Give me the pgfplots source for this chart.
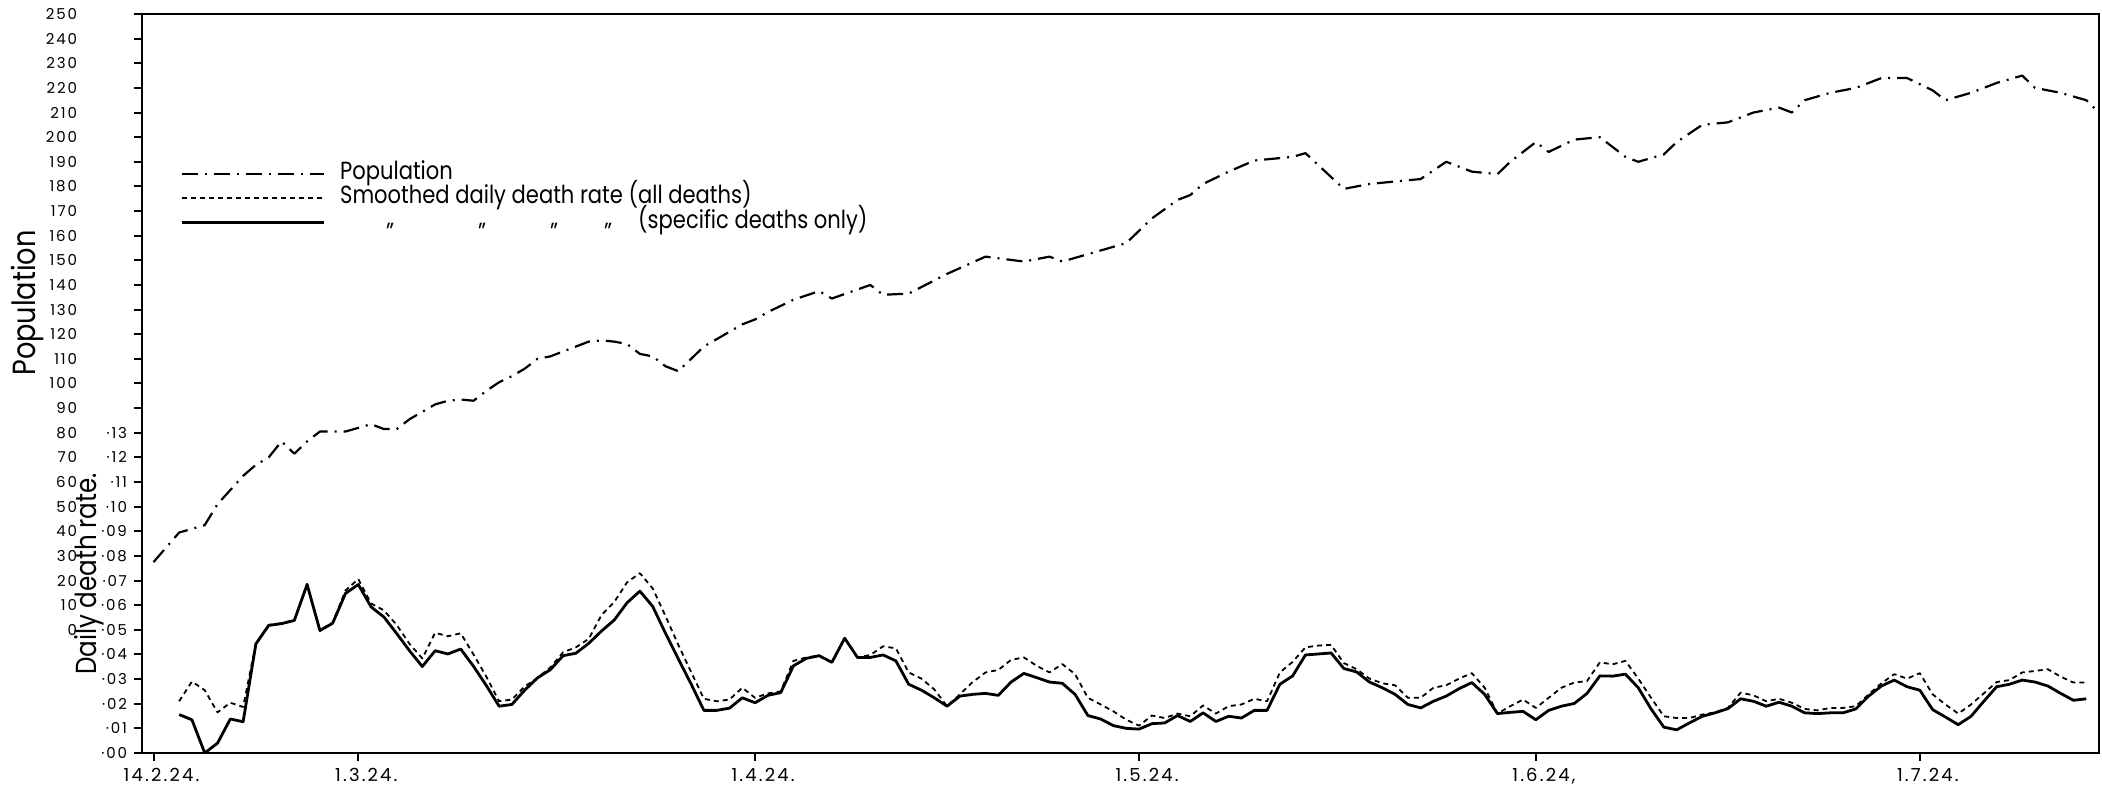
\documentclass[border=0pt]{standalone}
\usepackage{fontspec}
\setmainfont{Poppins}[FakeStretch=0.85]
\newfontfamily\tickfont{Poppins}[LetterSpace=12]
\usepackage{pgfplots}
\usepackage{pgfplotstable}
\pgfplotsset{compat=1.18}

% population (hundreds of individuals), day 0 = 14.2.24
\pgfplotstableread{
day pop
0 27.5
2 39.5
4 42.5
5 51
7 62.5
8 67
9 70
10 76.5
11 71.5
12 76.5
13 80.5
15 80.5
17 83.5
18 81.5
19 81.5
20 85.5
22 91.5
23 93
24 93.5
25 93
26 97
27 100.5
28 103
29 106
30 110
31 111
32 113
33 115
34 117
35 117.5
36 117
37 116
38 112
39 111
40 107
41 105
42 110
43 115
44 118
45 121
46 124
47 126
48 129
50 134
52 137.5
53 134.5
56 140
57 136
59 136.5
62 144.5
65 151.5
68 149.5
70 151.5
71 149.5
74 154
76 157
78 167
80 174.5
81 176.5
82 181
84 186
86 190.5
89 192
90 193.5
93 179
95 181
97 182
99 183
101 190
103 186
105 185
106 190
108 198
109 194
111 199
113 200
115 192
116 190
118 193
119 198
121 205
123 206
125 210
127 212
128 210
129 215
131 218
133 220
135 224
137 224
139 219
140 215
142 218
144 222
146 225
147 220
149 218
151 215
152 210
}\poptable

% smoothed daily death rates: all deaths, specific deaths only
\pgfplotstableread{
day all spec
2 .0210 .0156
3 .0290 .0135
4 .0255 .0000
5 .0165 .0040
6 .0204 .0138
7 .0187 .0127
8 .0445 .0443
9 .0520 .0518
10 .0527 .0525
11 .0540 .0538
12 .0686 .0684
13 .0499 .0497
14 .0530 .0527
15 .0660 .0648
16 .0706 .0684
17 .0607 .0593
18 .0579 .0552
19 .0520 .0485
20 .0443 .0415
21 .0384 .0351
22 .0488 .0415
23 .0474 .0402
24 .0486 .0422
25 .0400 .0352
26 .0310 .0274
27 .0210 .0190
28 .0217 .0197
29 .0270 .0255
30 .0305 .0305
31 .0347 .0338
32 .0409 .0395
33 .0429 .0405
34 .0463 .0445
35 .0560 .0495
36 .0613 .0540
37 .0693 .0610
38 .0730 .0657
39 .0668 .0595
40 .0556 .0486
41 .0439 .0382
42 .0329 .0280
43 .0220 .0173
44 .0210 .0173
45 .0217 .0182
46 .0265 .0224
47 .0224 .0204
48 .0242 .0234
49 .0250 .0245
50 .0374 .0354
51 .0388 .0384
52 .0395 .0395
53 .0368 .0368
54 .0466 .0466
55 .0388 .0388
56 .0398 .0388
57 .0433 .0398
58 .0425 .0374
59 .0327 .0279
60 .0302 .0255
61 .0258 .0224
62 .0190 .0190
63 .0238 .0231
64 .0288 .0238
65 .0327 .0242
66 .0337 .0234
67 .0378 .0288
68 .0388 .0323
69 .0354 .0306
70 .0327 .0288
71 .0361 .0283
72 .0320 .0238
73 .0224 .0152
74 .0197 .0138
75 .0169 .0111
76 .0135 .0100
77 .0111 .0097
78 .0152 .0119
79 .0142 .0122
80 .0160 .0152
81 .0149 .0128
82 .0193 .0163
83 .0160 .0128
84 .0190 .0149
85 .0197 .0142
86 .0220 .0173
87 .0210 .0173
88 .0327 .0279
89 .0370 .0313
90 .0429 .0398
91 .0436 .0402
92 .0439 .0406
93 .0365 .0343
94 .0340 .0329
95 .0302 .0288
96 .0283 .0265
97 .0275 .0238
98 .0224 .0197
99 .0224 .0183
100 .0265 .0210
101 .0275 .0231
102 .0302 .0261
103 .0324 .0286
104 .0265 .0238
105 .0160 .0160
106 .0190 .0165
107 .0217 .0169
108 .0183 .0135
109 .0224 .0173
110 .0265 .0190
111 .0286 .0201
112 .0292 .0242
113 .0368 .0313
114 .0360 .0312
115 .0374 .0320
116 .0302 .0265
117 .0224 .0179
118 .0149 .0105
119 .0142 .0094
120 .0142 .0122
121 .0156 .0149
122 .0165 .0163
123 .0183 .0180
124 .0245 .0220
125 .0234 .0210
126 .0210 .0190
127 .0220 .0206
128 .0204 .0190
129 .0179 .0163
130 .0173 .0160
131 .0183 .0163
132 .0183 .0163
133 .0190 .0179
134 .0238 .0231
135 .0283 .0272
136 .0320 .0296
137 .0302 .0269
138 .0324 .0255
139 .0238 .0176
140 .0197 .0146
141 .0160 .0115
142 .0197 .0149
143 .0242 .0210
144 .0288 .0269
145 .0296 .0279
146 .0327 .0296
147 .0333 .0288
148 .0340 .0272
149 .0310 .0242
150 .0286 .0214
151 .0286 .0220
}\ratetable

\tikzset{
  popline/.style={black, line width=1.1pt, line join=round,
    dash pattern=on 8pt off 3.5pt on 1pt off 3.5pt},
  allline/.style={black, line width=0.9pt, line join=round,
    dash pattern=on 2.5pt off 2pt},
  specline/.style={black, line width=1.4pt, line join=round},
}
\newcommand\dit[1]{\makebox[0pt][l]{\hspace*{#1}\raisebox{-0.9ex}{"}}}

\begin{document}
\begin{tikzpicture}
\begin{axis}[
  at={(71pt,16.5pt)}, anchor=south west,
  width=978.5pt, height=369.5pt, scale only axis,
  xmin=-0.9, xmax=152, ymin=-50, ymax=250,
  axis line style={line width=1.2pt},
  every tick/.style={black, line width=1pt},
  tick align=outside, tick pos=left,
  major tick length=4pt,
  xtick={0,16,47,77,108,138},
  xticklabels={14.2.24., 1.3.24., 1.4.24., 1.5.24., {1.6.24,}, 1.7.24.},
  xticklabel style={font=\tickfont\fontsize{9}{9}\selectfont, xshift=4pt},
  ytick={-50,-40,...,80},
  yticklabels={·00,·01,·02,·03,·04,·05,·06,·07,·08,·09,·10,·11,·12,·13},
  yticklabel style={font=\tickfont\fontsize{7.5}{7.5}\selectfont},
  extra y ticks={0,10,...,250},
  extra y tick labels={0,10,20,30,40,50,60,70,80,90,100,110,120,130,140,150,160,170,180,190,200,210,220,230,240,250},
  extra y tick style={yticklabel style={xshift=-25pt}},
  ylabel={Population},
  ylabel style={at={(axis description cs:-0.0583,0.609)}, anchor=center,
    font=\fontsize{16}{16}\selectfont},
]
\addplot[popline] table[x=day, y=pop] {\poptable};
\end{axis}

\begin{axis}[
  at={(71pt,16.5pt)}, anchor=south west,
  width=978.5pt, height=369.5pt, scale only axis,
  xmin=-0.9, xmax=152, ymin=0, ymax=0.30,
  hide axis,
  legend cell align=left,
  legend image code/.code={\draw[#1] (0pt,0pt) -- (71pt,0pt);},
  legend style={at={(axis description cs:0.0194,0.796)}, anchor=north west,
    draw=none, fill=none, inner sep=0pt,
    font=\fontsize{12.4}{12.4}\selectfont,
    nodes={inner sep=0pt, text height=7pt, text depth=1.5pt},
    row sep=3.8pt,
    /tikz/every odd column/.append style={column sep=7.5pt}},
]
\addlegendimage{popline}
\addlegendentry{Population}
\addplot[allline] table[x=day, y=all] {\ratetable};
\addlegendentry{Smoothed daily death rate (all deaths)}
\addplot[specline] table[x=day, y=spec] {\ratetable};
\addlegendentry{\dit{23pt}\dit{69pt}\dit{105pt}\dit{132pt}\hspace*{149pt}(specific deaths only)}
\end{axis}
\node[rotate=90, font=\fontsize{14.5}{14.5}\selectfont] at (44.5pt,106pt) {Daily death rate.};
\pgfresetboundingbox
\path[use as bounding box] (0,0) rectangle (1051pt,393pt);
\end{tikzpicture}
\end{document}
